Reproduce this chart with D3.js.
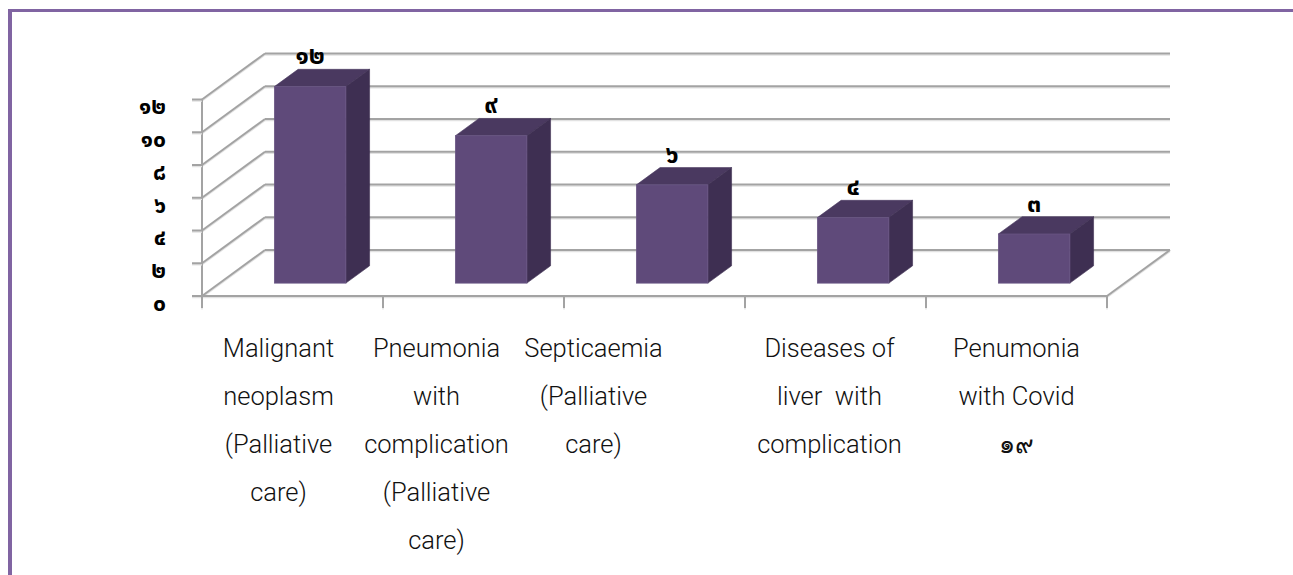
<!DOCTYPE html>
<html>
<head>
<meta charset="utf-8">
<script src="https://cdn.jsdelivr.net/npm/d3@7/dist/d3.min.js"></script>
<style>
  html, body { margin: 0; padding: 0; background: #fff; }
  svg { display: block; }
  .thai { font-family: "Noto Sans Thai", "Noto Sans Thai UI", "Loma", "Garuda", "Noto Sans", sans-serif; font-weight: 700; }
  .cat { font-family: Roboto, "Open Sans", sans-serif; font-weight: 300; }
  .cat .digits { font-weight: 400; }
</style>
</head>
<body>
<div id="chart"></div>
<script>
// chart data
const categories = [
    'Malignant neoplasm (Palliative care)',
    'Pneumonia with complication (Palliative care)',
    'Septicaemia (Palliative care)',
    'Diseases of liver  with complication',
    'Penumonia with Covid ๑๙'
]
const categoryLines = [
    ['Malignant', 'neoplasm', '(Palliative', 'care)'],
    ['Pneumonia', 'with', 'complication', '(Palliative', 'care)'],
    ['Septicaemia', '(Palliative', 'care)'],
    ['Diseases of', 'liver  with', 'complication'],
    ['Penumonia', 'with Covid', '๑๙']
]
const values = [12, 9, 6, 4, 3]
const yTicks = [0, 2, 4, 6, 8, 10, 12]
const yTickLabels = ['๐', '๒', '๔', '๖', '๘', '๑๐', '๑๒']

const thaiDigits = '๐๑๒๓๔๕๖๗๘๙'
const toThai = n => String(n).replace(/[0-9]/g, d => thaiDigits[+d])

// layout
const W = 1293, H = 575
const plot = { left: 202, right: 1107, bottom: 296, top: 99.5 }
const DX = 63, DY = 46          // oblique depth of the floor
const d0 = 0.28, d1 = 0.656     // bar depth (front, back) as fraction
const labelDx = [-14, -37, -61, -6, 0]   // excel nudges the wrapped labels a bit

const svg = d3.select('#chart').append('svg')
    .attr('width', W)
    .attr('height', H)

const x = d3.scaleBand()
    .domain(categories)
    .range([plot.left, plot.right])
    .paddingInner(0.605)
    .paddingOuter(0.3025)

const y = d3.scaleLinear()
    .domain([0, 12])
    .range([plot.bottom, plot.top])

const slot = (plot.right - plot.left) / categories.length

// frame border
svg.append('line')
    .attr('x1', 10).attr('x2', 10).attr('y1', 9).attr('y2', H)
    .attr('stroke', '#8064a2').attr('stroke-width', 4)
svg.append('line')
    .attr('x1', 8).attr('x2', W).attr('y1', 10.5).attr('y2', 10.5)
    .attr('stroke', '#8064a2').attr('stroke-width', 3)

const grid = svg.append('g')
const gridColor = '#a3a3a3'

function gline(x1, y1, x2, y2) {
    grid.append('line')
        .attr('x1', x1).attr('y1', y1 + 1.5).attr('x2', x2).attr('y2', y2 + 1.5)
        .attr('stroke', '#e2e2e2').attr('stroke-width', 1.5)
    grid.append('line')
        .attr('x1', x1).attr('y1', y1).attr('x2', x2).attr('y2', y2)
        .attr('stroke', gridColor).attr('stroke-width', 2)
}

// back wall gridlines + side wall diagonals
yTicks.forEach(t => {
    gline(plot.left + DX, y(t) - DY, plot.right + DX, y(t) - DY)
    gline(plot.left, y(t), plot.left + DX, y(t) - DY)
})

// floor
gline(plot.left, plot.bottom, plot.right, plot.bottom)
gline(plot.right, plot.bottom, plot.right + DX, plot.bottom - DY)

// front vertical axis + ticks
gline(plot.left, y(12), plot.left, plot.bottom)
yTicks.forEach(t => {
    gline(plot.left - 10, y(t), plot.left, y(t))
})

// category ticks
d3.range(categories.length + 1).forEach(i => {
    const xx = plot.left + i * slot
    gline(xx, plot.bottom, xx, plot.bottom + 12)
})

// bars
const bars = svg.append('g')
const pt = (px, py) => px + ',' + py

values.forEach((v, i) => {
    const c = categories[i]
    const xa = x(c), xb = x(c) + x.bandwidth()
    const yt = y(v), yb = y(0)
    const fx0 = xa + d0 * DX, fx1 = xb + d0 * DX
    const bx0 = xa + d1 * DX, bx1 = xb + d1 * DX
    const fyT = yt - d0 * DY, fyB = yb - d0 * DY
    const byT = yt - d1 * DY, byB = yb - d1 * DY

    // top
    bars.append('polygon')
        .attr('points', [pt(fx0, fyT), pt(fx1, fyT), pt(bx1, byT), pt(bx0, byT)].join(' '))
        .attr('fill', '#4a3960')
        .attr('stroke', '#4a3960').attr('stroke-width', 0.6)
    // side
    bars.append('polygon')
        .attr('points', [pt(fx1, fyT), pt(bx1, byT), pt(bx1, byB), pt(fx1, fyB)].join(' '))
        .attr('fill', '#3e2f52')
        .attr('stroke', '#3e2f52').attr('stroke-width', 0.6)
    // front
    bars.append('rect')
        .attr('x', fx0)
        .attr('y', fyT)
        .attr('width', fx1 - fx0)
        .attr('height', fyB - fyT)
        .attr('fill', '#5f4a7a')
        .attr('stroke', '#6a5785').attr('stroke-width', 0.8)

    // value label
    svg.append('text')
        .attr('class', 'thai')
        .attr('x', (fx0 + fx1) / 2)
        .attr('y', byT - 5)
        .attr('text-anchor', 'middle')
        .style('font-size', '25px')
        .style('fill', '#000')
        .text(toThai(v))
})

// y axis labels
yTicks.forEach((t, i) => {
    svg.append('text')
        .attr('class', 'thai')
        .attr('x', 166)
        .attr('y', y(t) + 8)
        .attr('dy', '0.3em')
        .attr('text-anchor', 'end')
        .style('font-size', '23px')
        .style('fill', '#000')
        .text(yTickLabels[i])
})

// category labels
categoryLines.forEach((lines, i) => {
    const cx = plot.left + (i + 0.5) * slot + labelDx[i]
    const t = svg.append('text')
        .attr('class', 'cat')
        .attr('text-anchor', 'middle')
        .style('font-size', '25.5px')
        .style('fill', '#111')
    lines.forEach((ln, j) => {
        t.append('tspan')
            .attr('x', cx)
            .attr('y', 357 + j * 48)
            .attr('class', /[๐-๙]/.test(ln) ? 'digits' : null)
            .attr('xml:space', 'preserve')
            .text(ln)
    })
})
</script>
</body>
</html>
